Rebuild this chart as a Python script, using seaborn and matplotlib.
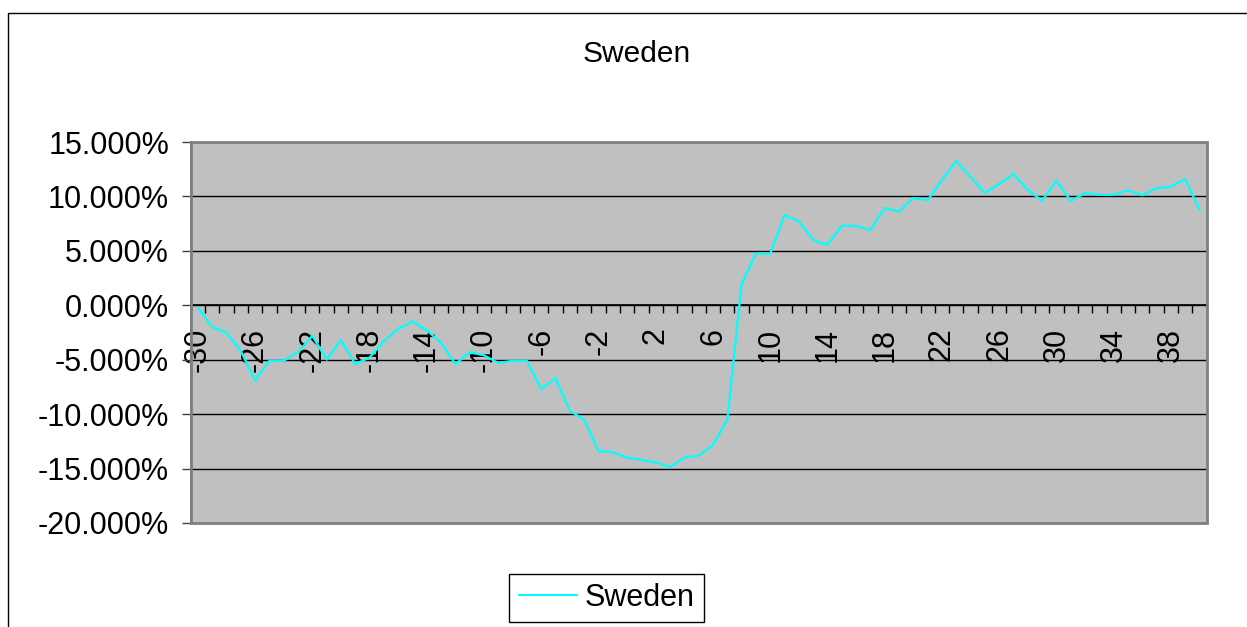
import numpy as np
import pandas as pd
import matplotlib
matplotlib.use("Agg")
import matplotlib.pyplot as plt
from matplotlib.patches import Rectangle
from matplotlib.ticker import FuncFormatter, FixedLocator
import seaborn as sns


# dados (variacao em %)

PERIODOS = list(range(-30, 41))
SUECIA = [
    -0.2, -2.0, -2.5, -4.2, -6.9, -5.1, -5.1, -4.3, -2.8, -5.0,
    -3.2, -5.4, -4.8, -3.3, -2.15, -1.5, -2.3, -3.45, -5.4, -4.3,
    -4.6, -5.3, -5.1, -5.1, -7.7, -6.7, -9.7, -10.5, -13.4, -13.5,
    -14.0, -14.2, -14.45, -14.85, -14.0, -13.8, -12.85, -10.5, 1.95, 4.75,
    4.75, 8.3, 7.7, 6.0, 5.55, 7.3, 7.3, 6.9, 8.95, 8.6,
    9.85, 9.65, 11.5, 13.25, 11.8, 10.3, 11.15, 12.05, 10.6, 9.6,
    11.45, 9.6, 10.3, 10.15, 10.15, 10.55, 10.1, 10.75, 10.9, 11.6,
    8.75,
]
ROTULOS_X = list(range(-30, 39, 4))
TICKS_Y = [15, 10, 5, 0, -5, -10, -15, -20]

FONTE = ["Liberation Sans", "DejaVu Sans"]
TAMANHO = 22

dados = pd.DataFrame({"periodo": PERIODOS, "Sweden": SUECIA})

sns.set_style("white")
plt.rcParams["font.family"] = FONTE
plt.rcParams["font.size"] = TAMANHO
plt.rcParams["axes.unicode_minus"] = False
plt.rcParams["text.color"] = "black"
plt.rcParams["xtick.color"] = "black"
plt.rcParams["ytick.color"] = "black"

fig = plt.figure(figsize=(12.47, 6.27), dpi=100)
ax = fig.add_axes([190.7 / 1247, 1 - 523 / 627, (1206.7 - 190.7) / 1247, (523 - 142) / 627])
ax.set_facecolor("#c0c0c0")

sns.lineplot(data=dados, x="periodo", y="Sweden", color="#00ffff", linewidth=1.6,
             label="Sweden", ax=ax, zorder=5)

ax.set_xlim(-30.5, 40.5)
ax.set_ylim(-20, 15)
ax.set_xlabel("")
ax.set_ylabel("")

# eixo y
ax.yaxis.set_major_locator(FixedLocator(TICKS_Y))
ax.yaxis.set_major_formatter(FuncFormatter(lambda v, _: f"{v:.3f}%"))
ax.tick_params(axis="y", left=True, direction="out", length=6.5, width=1, color="#404040",
               pad=9, labelsize=TAMANHO, labelcolor="black")
ax.yaxis.grid(True, color="black", linewidth=1)
ax.set_axisbelow(True)

# eixo x cruzando em zero
ax.spines["bottom"].set_position(("data", 0))
ax.spines["bottom"].set_color("black")
ax.spines["bottom"].set_linewidth(1.2)
ax.spines["bottom"].set_zorder(4)
ax.xaxis.set_major_locator(FixedLocator(ROTULOS_X))
ax.xaxis.set_minor_locator(FixedLocator(np.arange(-30.5, 41, 1)))
ax.tick_params(axis="x", which="major", bottom=True, length=0, pad=16, labelsize=TAMANHO,
               labelrotation=90, labelcolor="black")
ax.tick_params(axis="x", which="minor", bottom=True, direction="out", length=6, width=1,
               color="black")
for rotulo in ax.get_xticklabels():
    rotulo.set_verticalalignment("top")

for lado in ["top", "right"]:
    ax.spines[lado].set_visible(False)
ax.spines["left"].set_color("#404040")
ax.spines["left"].set_linewidth(1.2)

# borda da area de plotagem
ax.add_patch(Rectangle((0, 0), 1, 1, transform=ax.transAxes, fill=False,
                       edgecolor="#808080", linewidth=2, clip_on=False, zorder=6))

# legenda
leg = ax.legend(loc="center", bbox_to_anchor=(606.5 / 1247, 1 - 598 / 627),
                bbox_transform=fig.transFigure, frameon=True, fancybox=False,
                framealpha=1, edgecolor="black", fontsize=TAMANHO, handlelength=1.9,
                handletextpad=0.26, borderpad=0.3)
leg.get_frame().set_linewidth(1)

# titulo e moldura do grafico
fig.text(637 / 1247, 1 - 54 / 627, "Sweden", ha="center", va="center", fontsize=21.5)
fig.add_artist(Rectangle((8 / 1247, -0.2), 1.2, 1.2 - 13 / 627, transform=fig.transFigure,
                         fill=False, edgecolor="black", linewidth=1))

fig.savefig("out.png", dpi=100)
